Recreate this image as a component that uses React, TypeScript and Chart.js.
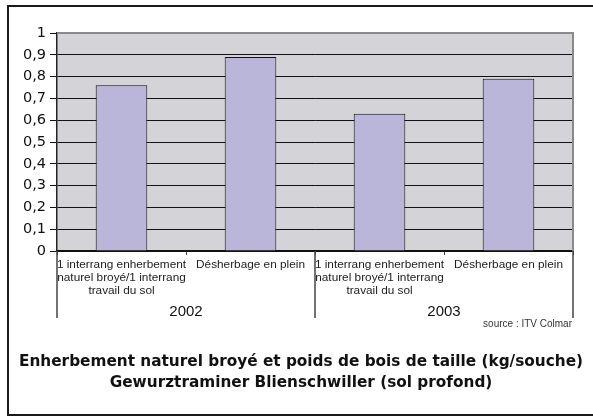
import React, { useEffect, useRef } from "react";
import { Chart, registerables } from "chart.js";

Chart.register(...registerables);

const categories: string[][] = [
  ["1 interrang enherbement", "naturel broyé/1 interrang", "travail du sol"],
  ["Désherbage en plein"],
  ["1 interrang enherbement", "naturel broyé/1 interrang", "travail du sol"],
  ["Désherbage en plein"],
];
const years: string[] = ["2002", "2003"];
const values: number[] = [0.76, 0.89, 0.63, 0.79];
const titleLines: string[] = [
  "Enherbement naturel broyé et poids de bois de taille (kg/souche)",
  "Gewurztraminer Blienschwiller (sol profond)",
];
const sourceText = "source : ITV Colmar";

const plotBg = {
  id: "plotBg",
  beforeDraw(chart: any) {
    const { ctx, chartArea: a } = chart;
    ctx.save();
    ctx.fillStyle = "#D4D4D8";
    ctx.fillRect(a.left, a.top, a.right - a.left, a.bottom - a.top);
    ctx.restore();
  },
  afterDatasetsDraw(chart: any) {
    const { ctx, chartArea: a } = chart;
    ctx.save();
    ctx.strokeStyle = "#8a8a8a";
    ctx.lineWidth = 2;
    ctx.beginPath();
    ctx.moveTo(a.left, a.top);
    ctx.lineTo(a.right, a.top);
    ctx.lineTo(a.right, a.bottom);
    ctx.stroke();
    ctx.restore();
  },
};

const groups = {
  id: "groups",
  afterDraw(chart: any) {
    const { ctx, chartArea: a } = chart;
    const x = chart.scales.x;
    const half = (x.getPixelForValue(1) - x.getPixelForValue(0)) / 2;
    ctx.save();
    ctx.strokeStyle = "#444";
    ctx.lineWidth = 1.5;
    const bounds: number[] = [];
    years.forEach((y, i) => {
      const p0 = x.getPixelForValue(2 * i);
      const p1 = x.getPixelForValue(2 * i + 1);
      bounds.push(p0 - half);
      if (i === years.length - 1) bounds.push(p1 + half);
      ctx.fillStyle = "#111";
      ctx.font = "15px 'Liberation Sans', Arial, sans-serif";
      ctx.textAlign = "center";
      ctx.textBaseline = "middle";
      ctx.fillText(y, (p0 + p1) / 2, a.bottom + 61);
    });
    bounds.forEach((b) => {
      ctx.beginPath();
      ctx.moveTo(Math.round(b), a.bottom);
      ctx.lineTo(Math.round(b), a.bottom + 67);
      ctx.stroke();
    });
    ctx.fillStyle = "#333";
    ctx.font = "10px 'Liberation Sans', Arial, sans-serif";
    ctx.textAlign = "right";
    ctx.textBaseline = "middle";
    ctx.fillText(sourceText, a.right - 1, a.bottom + 73);

    // Chart title (bottom), centred on the framed panel
    ctx.fillStyle = "#111";
    ctx.font = "bold 15.3px 'DejaVu Sans', sans-serif";
    ctx.textAlign = "center";
    ctx.textBaseline = "middle";
    const cx = chart.width / 2 + 4.5;
    titleLines.forEach((t, i) => {
      ctx.fillText(t, cx, a.bottom + 111.5 + i * 21);
    });
    ctx.restore();
  },
};

export default function App() {
  const ref = useRef<HTMLCanvasElement>(null);
  useEffect(() => {
    document.body.style.margin = "0";
    document.body.style.overflow = "hidden";
    const chart = new Chart(ref.current!, {
      type: "bar",
      data: {
        labels: categories,
        datasets: [
          {
            data: values,
            backgroundColor: "#B9B6D9",
            borderColor: "#111",
            borderWidth: 1,
            barPercentage: 0.4,
            categoryPercentage: 1,
          },
        ],
      },
      options: {
        responsive: false,
        animation: false,
        layout: { padding: { top: 33, right: 20, left: 0, bottom: 0 } },
        plugins: {
          legend: { display: false },
          tooltip: { enabled: false },
          title: { display: false },
        },
        scales: {
          x: {
            grid: {
              offset: true,
              drawOnChartArea: false,
              tickLength: 4,
              color: "#444",
            },
            border: { color: "#111", width: 1.5 },
            ticks: {
              color: "#222",
              padding: 3,
              maxRotation: 0,
              autoSkip: false,
              font: { family: "'Liberation Sans', Arial, sans-serif", size: 11.8, lineHeight: 1.1 },
            },
            afterFit(scale: any) {
              scale.height = 168;
            },
          },
          y: {
            min: 0,
            max: 1,
            ticks: {
              stepSize: 0.1,
              color: "#111",
              padding: 4,
              font: { family: "'DejaVu Sans', sans-serif", size: 14.5 },
              callback: (v: any) => {
                const n = Number(v);
                if (n === 0 || n === 1) return String(n);
                return n.toFixed(1).replace(".", ",");
              },
            },
            grid: {
              tickLength: 7,
              color: "#111",
              lineWidth: 1,
            },
            border: { color: "#222", width: 1.5 },
            afterFit(scale: any) {
              scale.width = 57;
            },
          },
        },
      },
      plugins: [plotBg, groups],
    });
    return () => chart.destroy();
  }, []);
  return (
    <div style={{ position: "fixed", left: 0, top: 0, width: 593, height: 419, overflow: "hidden", background: "#fff" }}>
      <div
        style={{
          position: "absolute",
          left: 7,
          top: 5,
          width: 620,
          height: 411,
          border: "2px solid #1a1a1a",
          boxSizing: "border-box",
        }}
      />
      <canvas ref={ref} width={593} height={419} style={{ position: "absolute", left: 0, top: 0 }} />
    </div>
  );
}
